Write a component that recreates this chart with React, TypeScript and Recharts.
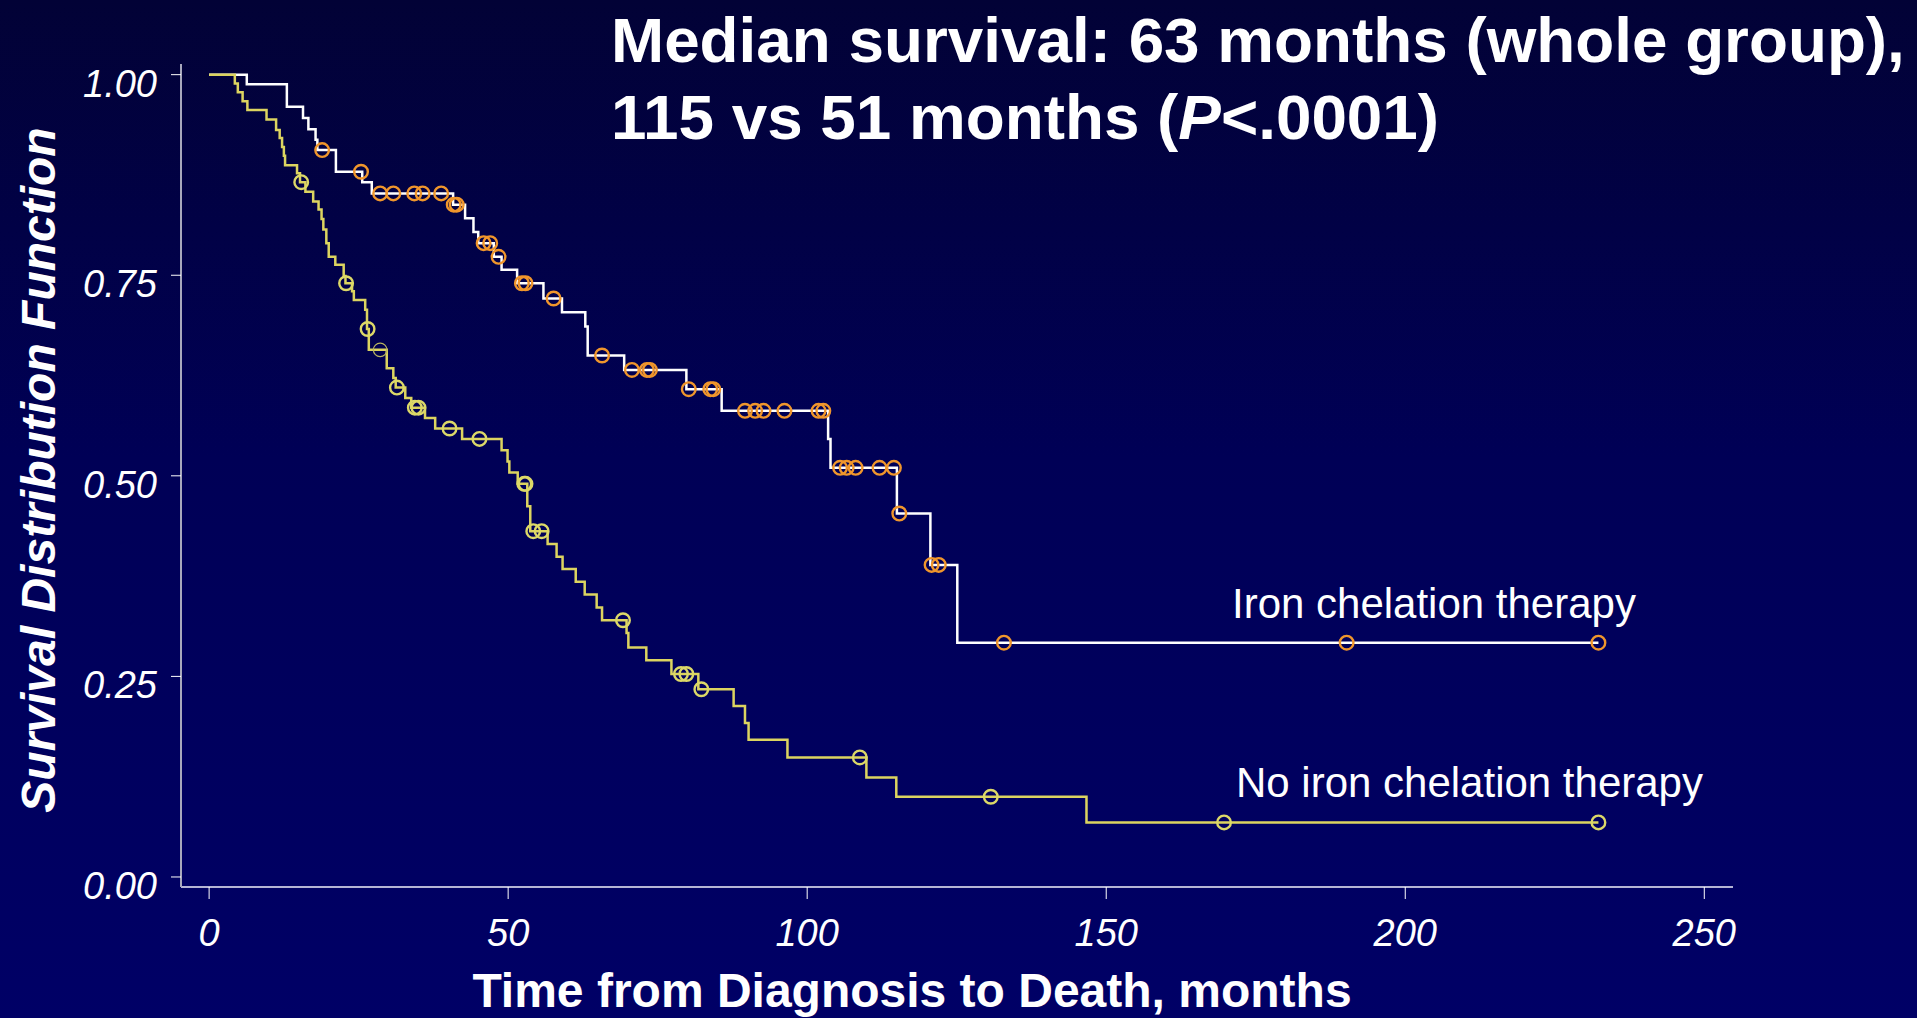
import React from 'react';
import { ComposedChart, Line, Scatter, XAxis, YAxis } from 'recharts';

// Kaplan-Meier steps: time (months) where the curve drops, and the value after it
const ironTimes = [0, 6.3, 13.0, 15.7, 16.6, 17.8, 18.1, 21.2, 25.6, 27.2, 40.8, 42.8, 44.2, 45.0, 47.6, 48.9, 51.5, 55.9, 59.0, 62.9, 63.3, 69.4, 79.8, 85.7, 103.5, 103.9, 115.0, 120.6, 125.1, 232.3];
const ironSurv = [1.0, 0.988, 0.96, 0.946, 0.932, 0.919, 0.906, 0.879, 0.866, 0.852, 0.838, 0.821, 0.804, 0.79, 0.773, 0.757, 0.74, 0.721, 0.704, 0.686, 0.65, 0.632, 0.608, 0.581, 0.546, 0.51, 0.453, 0.389, 0.292, 0.292];
const ironCensored = [18.9, 25.4, 28.6, 30.8, 34.3, 35.7, 38.8, 40.9, 41.4, 45.9, 47.0, 48.4, 52.3, 52.9, 57.6, 65.7, 70.7, 73.2, 73.7, 80.2, 83.8, 84.3, 89.6, 91.3, 92.7, 96.2, 101.9, 102.7, 105.5, 106.6, 108.1, 112.1, 114.5, 115.4, 120.8, 122.0, 132.9, 190.2, 232.3];

const noIronTimes = [0, 4.3, 4.8, 5.6, 6.4, 9.6, 11.2, 11.8, 12.2, 12.5, 12.7, 14.7, 15.2, 16.1, 17.4, 18.3, 18.8, 19.1, 19.6, 20.0, 21.1, 22.5, 22.8, 23.9, 24.2, 26.1, 26.4, 26.7, 29.7, 30.8, 31.2, 32.8, 33.8, 36.1, 37.8, 42.3, 48.9, 49.9, 50.2, 51.6, 53.2, 53.7, 56.6, 58.1, 59.1, 61.3, 62.8, 64.8, 65.7, 69.8, 70.1, 73.1, 77.3, 81.8, 87.7, 89.6, 90.2, 96.7, 109.9, 114.9, 146.7, 232.3];
const noIronSurv = [1.0, 0.989, 0.978, 0.967, 0.956, 0.944, 0.931, 0.921, 0.91, 0.899, 0.887, 0.877, 0.866, 0.854, 0.842, 0.832, 0.82, 0.807, 0.79, 0.773, 0.763, 0.749, 0.74, 0.73, 0.719, 0.707, 0.683, 0.657, 0.634, 0.622, 0.61, 0.597, 0.585, 0.572, 0.559, 0.546, 0.532, 0.518, 0.504, 0.49, 0.462, 0.431, 0.415, 0.399, 0.384, 0.368, 0.352, 0.336, 0.32, 0.304, 0.286, 0.27, 0.253, 0.234, 0.213, 0.192, 0.171, 0.149, 0.124, 0.1, 0.068, 0.068];
const noIronCensored = [15.4, 22.9, 26.5, 31.4, 34.4, 35.0, 40.2, 45.2, 52.7, 52.9, 54.2, 55.6, 69.2, 78.9, 79.8, 82.3, 108.8, 130.7, 169.7, 232.3];
const noIronFaintCensored = [28.6];

const xTicks = [0, 50, 100, 150, 200, 250];
const yTicks = [0, 0.25, 0.5, 0.75, 1.0];

const FONT = '"Liberation Sans", Arial, Helvetica, sans-serif';

function survAt(times: number[], surv: number[], t: number) {
  let s = surv[0];
  for (let i = 0; i < times.length; i++) {
    if (times[i] <= t) s = surv[i];
  }
  return s;
}

const ironCurve = ironTimes.map((t, i) => ({ t, s: ironSurv[i] }));
const noIronCurve = noIronTimes.map((t, i) => ({ t, s: noIronSurv[i] }));
const ironMarks = ironCensored.map((t) => ({ t, s: survAt(ironTimes, ironSurv, t) }));
const noIronMarks = noIronCensored.map((t) => ({ t, s: survAt(noIronTimes, noIronSurv, t) }));
const noIronFaintMarks = noIronFaintCensored.map((t) => ({ t, s: survAt(noIronTimes, noIronSurv, t) }));

const ring = (color: string, width: number) => (props: any) => (
  <circle cx={props.cx} cy={props.cy} r={6.8} fill="none" stroke={color} strokeWidth={width} />
);

const YTick = ({ x, y, payload }: any) => (
  <text x={x} y={y + 22} textAnchor="end" fill="#ffffff" fontSize={38} fontStyle="italic" fontFamily={FONT}>
    {payload.value.toFixed(2)}
  </text>
);

const XTick = ({ x, y, payload }: any) => (
  <text x={x} y={y + 27} textAnchor="middle" fill="#ffffff" fontSize={38} fontStyle="italic" fontFamily={FONT}>
    {payload.value}
  </text>
);

export default function App() {
  return (
    <div
      style={{
        position: 'absolute',
        left: 0,
        top: 0,
        width: 1917,
        height: 1018,
        background: 'linear-gradient(to bottom, #020236 0%, #000056 45%, #000066 100%)',
        overflow: 'hidden',
      }}
    >
      <ComposedChart width={1917} height={1018} margin={{ top: 64, right: 184, left: 81, bottom: 71 }}>
        <XAxis
          dataKey="t"
          type="number"
          domain={[-4.7, 254.8]}
          ticks={xTicks}
          allowDataOverflow
          height={60}
          stroke="#b4b4d4"
          strokeWidth={2}
          tickLine={{ stroke: '#ffffff', strokeWidth: 1 }}
          tickSize={12}
          tickMargin={20}
          tick={<XTick />}
        />
        <YAxis
          dataKey="s"
          type="number"
          domain={[-0.0125, 1.0133]}
          ticks={yTicks}
          allowDataOverflow
          width={100}
          stroke="#a8a8bc"
          strokeWidth={2}
          tickLine={{ stroke: '#ffffff', strokeWidth: 1 }}
          tickSize={10}
          tickMargin={14}
          tick={<YTick />}
        />
        <Line data={ironCurve} dataKey="s" type="stepAfter" stroke="#ffffff" strokeWidth={2.5} dot={false} isAnimationActive={false} />
        <Line data={noIronCurve} dataKey="s" type="stepAfter" stroke="#dcd460" strokeWidth={2.5} dot={false} isAnimationActive={false} />
        <Scatter data={ironMarks} dataKey="s" shape={ring('#f0962c', 2.4)} isAnimationActive={false} />
        <Scatter data={noIronMarks} dataKey="s" shape={ring('#dcd868', 2.4)} isAnimationActive={false} />
        <Scatter data={noIronFaintMarks} dataKey="s" shape={ring('#b8b460', 1.2)} isAnimationActive={false} />
      </ComposedChart>
      <svg width={1917} height={1018} style={{ position: 'absolute', left: 0, top: 0, pointerEvents: 'none' }}>
        <g fontFamily={FONT} fill="#ffffff">
          <text x={611} y={62} fontSize={63.8} fontWeight="bold">Median survival: 63 months (whole group),</text>
          <text x={611} y={139} fontSize={63.8} fontWeight="bold">
            115 vs 51 months (<tspan fontStyle="italic">P</tspan>&lt;.0001)
          </text>
          <text x={1232} y={618} fontSize={42}>Iron chelation therapy</text>
          <text x={1236} y={797} fontSize={42}>No iron chelation therapy</text>
          <text x={912} y={1007} fontSize={48} fontWeight="bold" textAnchor="middle">Time from Diagnosis to Death, months</text>
          <text x={55} y={470} fontSize={48} fontWeight="bold" fontStyle="italic" textAnchor="middle" transform="rotate(-90 55 470)">
            Survival Distribution Function
          </text>
        </g>
      </svg>
    </div>
  );
}
